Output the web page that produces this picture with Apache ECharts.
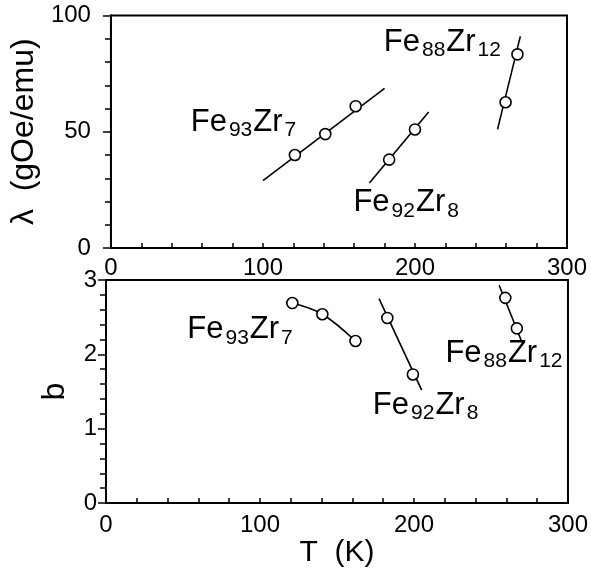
<!DOCTYPE html>
<html>
<head>
<meta charset="utf-8">
<script src="https://cdn.jsdelivr.net/npm/echarts@6/dist/echarts.min.js"></script>
<style>html,body{margin:0;padding:0;background:#fff}#c{width:591px;height:569px}</style>
</head>
<body>
<div id="c"></div>
<script>
// ---- data ----
// top panel: lambda (gOe/emu) vs T (K)
const lamFe93Pts = [[121, 40], [141, 49], [161, 61]];
const lamFe93Fit = [[100, 29], [180, 68.7]];
const lamFe92Pts = [[183, 38], [200, 51]];
const lamFe92Fit = [[170, 28], [209, 58.5]];
const lamFe88Pts = [[259.6, 62.7], [267.4, 83.3]];
const lamFe88Fit = [[254.3, 51], [269.3, 91]];
// bottom panel: b vs T (K)
const bFe93Pts = [[121, 2.69], [140.5, 2.54], [162, 2.18]];
const bFe92Pts = [[182.7, 2.49], [199.3, 1.73]];
const bFe92Fit = [[177.3, 2.75], [205, 1.52]];
const bFe88Pts = [[259.3, 2.76], [266.8, 2.35]];
const bFe88Fit = [[255.3, 2.93], [269.6, 2.19]];
// annotation labels: [x, y, rich text]
const topLabels = [
  [52.5, 52.9, '{m|Fe}{s|93}{m|Zr}{s|7}'],
  [159.5, 18.1, '{m|Fe}{s|92}{m|Zr}{s|8}'],
  [179.5, 87.1, '{m|Fe}{s|88}{m|Zr}{s|12}']
];
const botLabels = [
  [52.8, 2.29, '{m|Fe}{s|93}{m|Zr}{s|7}'],
  [173.3, 1.27, '{m|Fe}{s|92}{m|Zr}{s|8}'],
  [220.4, 1.97, '{m|Fe}{s|88}{m|Zr}{s|12}']
];
const xTicks = [0, 100, 200, 300];
const yTopTicks = [0, 50, 100];
const yBotTicks = [0, 1, 2, 3];

// ---- chart ----
const FONT = 'Liberation Sans';
const chart = echarts.init(document.getElementById('c'), null, {renderer: 'canvas'});
const axisLine = {show: true, lineStyle: {color: '#000', width: 2}};
function xAx(gi, name, margin) {
  return {
    gridIndex: gi, type: 'value', min: 0, max: 300, interval: 100,
    axisLine: axisLine,
    axisTick: {show: true, inside: true, length: 5, lineStyle: {color: '#000', width: 1.5}},
    minorTick: {show: true, splitNumber: 5, length: 5, lineStyle: {color: '#000', width: 1.5}},
    splitLine: {show: false},
    axisLabel: {color: '#000', fontFamily: FONT, fontSize: 24, margin: margin},
    name: name, nameLocation: 'middle', nameGap: 30,
    nameTextStyle: {color: '#000', fontFamily: FONT, fontSize: 30}
  };
}
function yAx(gi, max, interval, name, gap, margin) {
  return {
    gridIndex: gi, type: 'value', min: 0, max: max, interval: interval,
    axisLine: axisLine,
    axisTick: {show: true, inside: false, length: 8, lineStyle: {color: '#000', width: 1.5}},
    minorTick: {show: true, splitNumber: 5, length: 6, lineStyle: {color: '#000', width: 1.5}},
    splitLine: {show: false},
    axisLabel: {color: '#000', fontFamily: FONT, fontSize: 24, margin: margin},
    name: name, nameLocation: 'middle', nameRotate: 90, nameGap: gap,
    nameTextStyle: {color: '#000', fontFamily: FONT, fontSize: 32}
  };
}
function fit(xi, data) {
  return {type: 'line', xAxisIndex: xi, yAxisIndex: xi, data: data, symbol: 'none',
    lineStyle: {color: '#000', width: 1.6}, silent: true, animation: false};
}
function pts(xi, data, lineToo) {
  return {type: 'line', xAxisIndex: xi, yAxisIndex: xi, data: data, symbol: 'circle', symbolSize: 11,
    smooth: lineToo ? 0.35 : false,
    itemStyle: {color: '#fff', borderColor: '#000', borderWidth: 1.6},
    lineStyle: lineToo ? {color: '#000', width: 1.6} : {width: 0, opacity: 0},
    z: 3, animation: false};
}
const rich = {
  m: {fontFamily: FONT, fontSize: 31, color: '#000', verticalAlign: 'bottom', padding: [0, 1, 3, 0], lineHeight: 31},
  s: {fontFamily: FONT, fontSize: 21, color: '#000', verticalAlign: 'bottom', padding: [0, 1, 0, 1], lineHeight: 21}
};
function labels(xi, arr) {
  return {type: 'scatter', xAxisIndex: xi, yAxisIndex: xi, symbolSize: 0,
    data: arr.map(a => ({value: [a[0], a[1]], lab: a[2]})),
    label: {show: true, position: 'inside', align: 'left', verticalAlign: 'middle',
      color: '#000', textBorderWidth: 0, opacity: 1,
      formatter: p => p.data.lab, rich: rich},
    silent: true, animation: false};
}

chart.setOption({
  animation: false,
  backgroundColor: '#fff',
  grid: [
    {left: 106, top: 15.5, width: 461, height: 232.5, show: true, borderColor: '#000', borderWidth: 2, backgroundColor: 'transparent'},
    {left: 106, top: 280, width: 462, height: 228.3, show: true, borderColor: '#000', borderWidth: 2, backgroundColor: 'transparent'}
  ],
  xAxis: [xAx(0, '', 8), xAx(1, 'T  (K)', 10)],
  yAxis: [yAx(0, 100, 50, 'λ  (gOe/emu)', 63, 20), yAx(1, 3, 1, 'b', 35, 9)],
  series: [
    fit(0, lamFe93Fit), pts(0, lamFe93Pts, false),
    fit(0, lamFe92Fit), pts(0, lamFe92Pts, false),
    fit(0, lamFe88Fit), pts(0, lamFe88Pts, false),
    pts(1, bFe93Pts, true),
    fit(1, bFe92Fit), pts(1, bFe92Pts, false),
    fit(1, bFe88Fit), pts(1, bFe88Pts, false),
    labels(0, topLabels), labels(1, botLabels)
  ]
});
</script>
</body>
</html>
